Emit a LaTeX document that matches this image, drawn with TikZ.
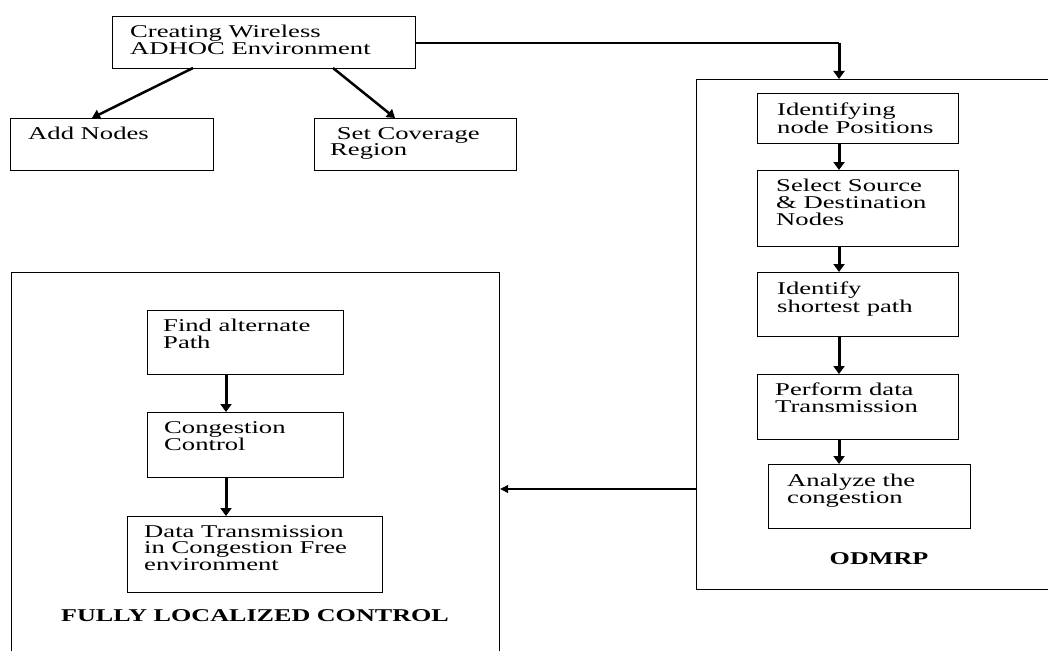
\documentclass[tikz,border=0pt]{standalone}
\usepackage{fontspec}
\setmainfont{Liberation Serif}
\usepackage{graphicx}
\usetikzlibrary{arrows.meta,calc}
\newcommand\stx[1]{\scalebox{1.48}[1]{\begin{tabular}{@{}l@{}}#1\end{tabular}}}
\tikzset{
  box/.style={draw=black, line width=1.2pt, rectangle, inner sep=0, anchor=north west},
  txt/.style={inner sep=0, anchor=north west, font=\fontsize{18}{16}\selectfont},
  ttl/.style={inner sep=0, font=\fontsize{18}{16}\selectfont\bfseries},
  bigarrow/.style={line width=3pt, -{Triangle[width=11pt,length=8pt]}},
  diagarrow/.style={line width=2.5pt, -{Triangle[width=10pt,length=8pt]}},
  thinline/.style={line width=1.2pt},
  thinarrow/.style={line width=1.2pt, -{Triangle[width=8pt,length=8pt]}}
}
\begin{document}
\begin{tikzpicture}[x=1pt,y=-1pt]
\useasboundingbox (0,0) rectangle (1048,650);
\clip (0,0) rectangle (1048,650);
\fill[white] (0,0) rectangle (1048,650);
% containers
\node[box, minimum width=364pt, minimum height=510pt] (odmrp) at (696,79) {};
\node[box, minimum width=488pt, minimum height=400pt] (flc) at (11,272) {};
% top boxes
\node[box, minimum width=303pt, minimum height=52pt] (env) at (112,16) {};
\node[txt] (envt) at ($(env.north west)+(18,9)$) {\stx{Creating Wireless\\ADHOC Environment}};
\node[box, minimum width=203pt, minimum height=52pt] (add) at (10,118) {};
\node[txt] (addt) at ($(add.north west)+(18,9)$) {\stx{Add Nodes}};
\node[box, minimum width=202pt, minimum height=52pt] (cov) at (314,118) {};
\node[txt] (covt) at ($(cov.north west)+(16,9)$) {\stx{\ Set Coverage\\Region}};
% ODMRP inner boxes
\node[box, minimum width=201pt, minimum height=50pt] (idp) at (757,93) {};
\node[txt] (idpt) at ($(idp.north west)+(20,10)$) {\stx{Identifying\\node Positions}};
\node[box, minimum width=201pt, minimum height=76pt] (sel) at (757,170) {};
\node[txt] (selt) at ($(sel.north west)+(19,9)$) {\stx{Select Source\\\& Destination\\Nodes}};
\node[box, minimum width=201pt, minimum height=64pt] (isp) at (757,272) {};
\node[txt] (ispt) at ($(isp.north west)+(20,10)$) {\stx{Identify\\shortest path}};
\node[box, minimum width=201pt, minimum height=65pt] (pdt) at (757,374) {};
\node[txt] (pdtt) at ($(pdt.north west)+(18,9)$) {\stx{Perform data\\Transmission}};
\node[box, minimum width=202pt, minimum height=64pt] (anc) at (768,464) {};
\node[txt] (anct) at ($(anc.north west)+(19,10)$) {\stx{Analyze the\\congestion}};
\node[ttl] (odmrpt) at (879,559) {\scalebox{1.45}[1]{ODMRP}};
% left inner boxes
\node[box, minimum width=196pt, minimum height=64pt] (fap) at (147,310) {};
\node[txt] (fapt) at ($(fap.north west)+(16,9)$) {\stx{Find alternate\\Path}};
\node[box, minimum width=196pt, minimum height=65pt] (cc) at (147,412) {};
\node[txt] (cct) at ($(cc.north west)+(17,9)$) {\stx{Congestion\\Control}};
\node[box, minimum width=255pt, minimum height=76pt] (dt) at (127,516) {};
\node[txt] (dtt) at ($(dt.north west)+(17,9)$) {\stx{Data Transmission\\in Congestion Free\\environment}};
\node[ttl] (flct) at (255,616) {\scalebox{1.45}[1]{FULLY LOCALIZED CONTROL}};
% connectors
\coordinate (ea) at (193,68);
\coordinate (eb) at (333,68);
\draw[diagarrow] (ea) -- (add.north -| 92,0);
\draw[diagarrow] (eb) -- (cov.north -| 395,0);
\coordinate (corner) at (839,43);
\draw[thinline] (env.east |- corner) -- (corner);
\draw[bigarrow] (corner) -- (corner |- odmrp.north);
\draw[bigarrow] (idp.south -| corner) -- (sel.north -| corner);
\draw[bigarrow] (sel.south -| corner) -- (isp.north -| corner);
\draw[bigarrow] (isp.south -| corner) -- (pdt.north -| corner);
\draw[bigarrow] (pdt.south -| corner) -- (anc.north -| corner);
\coordinate (lk) at (696,489);
\draw[thinarrow] (lk) -- (flc.east |- lk);
\draw[bigarrow] (fap.south -| 226,0) -- (cc.north -| 226,0);
\draw[bigarrow] (cc.south -| 226,0) -- (dt.north -| 226,0);
\end{tikzpicture}
\end{document}
